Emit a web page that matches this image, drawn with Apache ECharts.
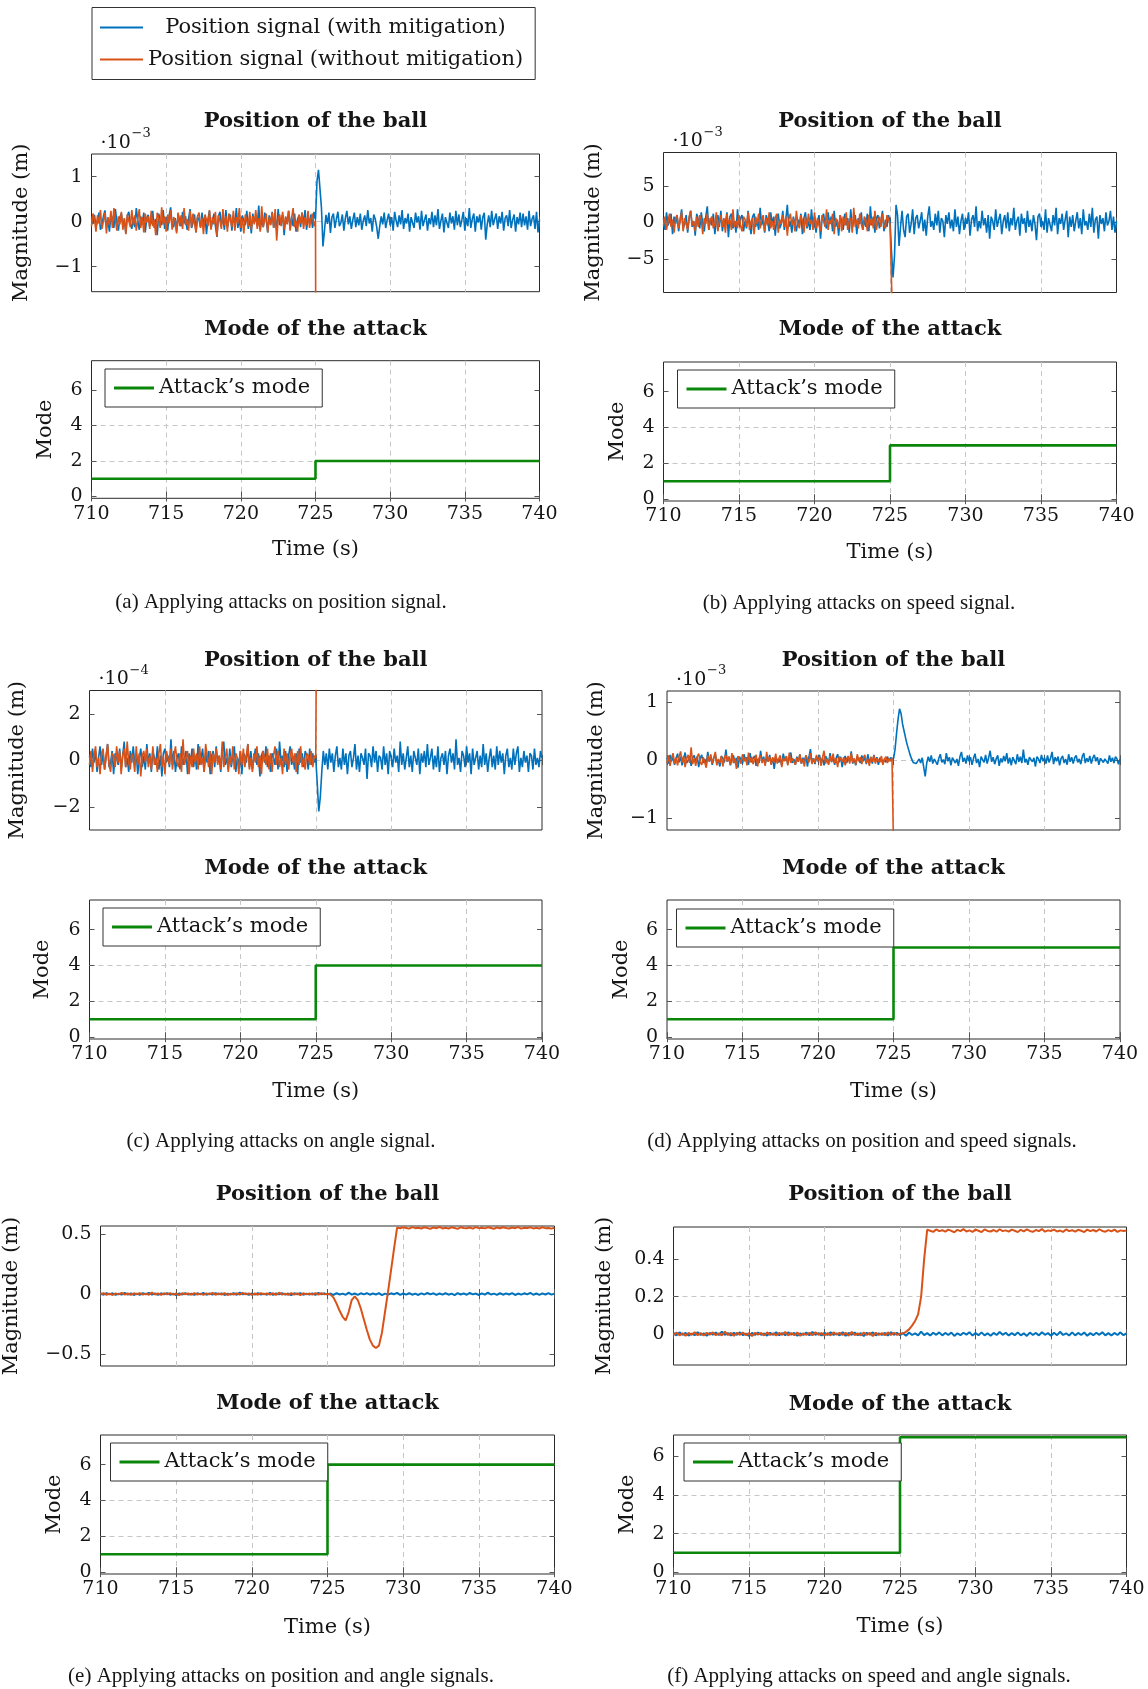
<!DOCTYPE html>
<html lang="en">
<head>
    <meta charset="UTF-8">
    <title>Position of the ball / Mode of the attack</title>
    <script src="https://cdn.jsdelivr.net/npm/echarts@6/dist/echarts.min.js"></script>
    <style>
        html, body { margin: 0; padding: 0; background: #fff; }
        #main { width: 1148px; height: 1689px; }
    </style>
</head>
<body>
<div id="main"></div>
<script type="text/javascript">
    // traces start at 710 s; (a)-(d) sampled every 0.1 s, (e)-(f) every 0.2 s
    var t0 = 710;
    var timeTicks = [710, 715, 720, 725, 730, 735, 740];
    var modeTicks = [0, 2, 4, 6];

    // attack mode (step) for each sub-figure
    var modeTimes = [710, 725, 725, 740];
    var modeA = [1, 1, 2, 2];
    var modeB = [1, 1, 3, 3];
    var modeC = [1, 1, 4, 4];
    var modeD = [1, 1, 5, 5];
    var modeE = [1, 1, 6, 6];
    var modeF = [1, 1, 7, 7];

    // y tick labels of the position plots
    var posTicksA = [-1, 0, 1];       // x 10^-3
    var posTicksB = [-5, 0, 5];       // x 10^-3
    var posTicksC = [-2, 0, 2];       // x 10^-4
    var posTicksD = [-1, 0, 1];       // x 10^-3
    var posTicksE = [-0.5, 0, 0.5];
    var posTicksF = [0, 0.2, 0.4];

    // (a) attack on position signal, values x 10^-3 m
    var blueA = [0.08,-0.05,0.15,-0.12,0.02,0.20,-0.18,-0.06,0.12,0.25,
        -0.10,0.04,-0.22,0.16,0.06,-0.14,0.28,-0.02,-0.20,0.10,
        0.18,-0.08,0.05,-0.26,0.14,0.22,-0.04,-0.16,0.09,-0.12,
        0.30,0.02,-0.18,0.12,-0.06,0.20,-0.24,0.08,0.15,-0.10,
        -0.02,0.24,-0.14,0.06,-0.30,0.18,0.04,-0.08,0.26,-0.16,
        0.10,-0.20,0.14,0.32,-0.06,-0.12,0.08,-0.22,0.18,0.02,
        -0.10,0.22,-0.04,0.12,-0.18,0.06,0.28,-0.14,-0.02,0.16,
        -0.24,0.10,0.04,-0.12,0.20,-0.08,0.14,-0.28,0.06,0.24,
        -0.16,0.02,0.18,-0.10,-0.34,0.12,0.22,-0.06,0.08,-0.18,
        0.26,-0.12,0.04,0.16,-0.20,0.10,-0.04,0.30,-0.14,0.06,
        -0.22,0.14,0.02,-0.08,0.24,-0.16,0.10,-0.26,0.18,-0.02,
        0.12,-0.10,0.36,-0.18,0.06,-0.12,0.20,0.04,-0.24,0.14,
        -0.06,0.22,-0.14,0.08,-0.20,0.28,-0.08,0.02,0.16,-0.30,
        0.10,-0.04,0.24,-0.16,0.12,-0.10,0.18,-0.22,0.06,0.14,
        -0.12,0.20,-0.06,0.26,-0.18,0.08,-0.02,0.16,-0.14,0.22,
        0.05,
        0.90,1.15,1.15,0.30,-0.55,-0.20,0.15,-0.05,0.20,-0.25,
        0.10,0.18,-0.14,0.06,0.22,-0.10,-0.02,0.16,-0.20,0.08,
        0.24,-0.06,0.12,-0.16,0.04,0.20,-0.12,0.10,-0.08,0.18,
        -0.18,0.02,0.14,-0.10,0.26,-0.04,0.08,-0.22,0.16,0.06,
        -0.12,-0.38,-0.10,0.12,-0.06,0.20,-0.14,0.04,0.18,-0.08,
        0.10,-0.20,0.22,0.02,-0.12,0.14,-0.06,0.26,-0.16,0.08,
        -0.04,0.18,-0.22,0.10,0.06,-0.14,0.20,-0.02,0.12,-0.18,
        0.24,-0.10,0.04,0.16,-0.20,0.08,-0.06,0.22,-0.12,0.14,
        -0.08,0.28,-0.16,0.02,0.18,-0.24,0.10,0.06,-0.14,0.20,
        -0.04,0.12,-0.18,0.24,-0.08,0.16,-0.12,0.04,0.22,-0.20,
        0.08,-0.10,0.30,-0.14,0.06,0.18,-0.22,0.12,-0.02,0.16,
        -0.18,0.10,0.20,-0.40,-0.06,0.14,-0.12,0.24,-0.08,0.06,
        0.18,-0.16,0.12,-0.04,0.22,-0.20,0.08,0.14,-0.10,0.26,
        -0.14,0.04,0.16,-0.22,0.10,-0.06,0.20,-0.12,0.18,-0.08,
        0.12,-0.18,0.24,-0.10,0.06,0.14,-0.16,0.22,-0.24,0.05];
    var orangeA = [-0.10,0.18,0.06,-0.22,0.14,-0.04,0.26,-0.16,0.02,0.20,
        -0.26,0.10,-0.08,0.24,-0.14,0.30,0.04,-0.20,0.12,-0.06,
        0.22,-0.18,0.08,-0.28,0.16,0.02,-0.12,0.26,-0.08,0.14,
        -0.20,0.06,0.28,-0.14,0.10,-0.24,0.18,-0.02,0.12,-0.16,
        0.24,-0.10,0.04,-0.30,0.20,0.08,-0.14,0.32,-0.06,0.12,
        -0.22,0.16,-0.04,0.26,-0.18,0.10,0.02,-0.26,0.20,-0.10,
        0.14,-0.16,0.30,-0.08,0.06,-0.20,0.24,-0.12,0.18,-0.04,
        -0.24,0.12,0.20,-0.14,0.08,-0.28,0.16,0.04,-0.10,0.26,
        -0.18,0.10,-0.06,0.22,-0.32,0.14,0.02,-0.16,0.28,-0.08,
        0.12,-0.22,0.18,0.06,-0.12,0.24,-0.20,0.10,-0.04,0.30,
        -0.14,0.08,-0.26,0.16,0.02,-0.10,0.22,-0.18,0.12,-0.06,
        0.26,-0.16,0.08,-0.22,0.34,-0.12,0.04,0.18,-0.24,0.10,
        -0.08,0.20,-0.14,0.28,-0.42,0.06,0.16,-0.10,0.22,-0.18,
        0.12,-0.06,0.24,-0.20,0.08,0.30,-0.12,0.02,-0.22,0.16,
        -0.04,0.20,-0.16,0.10,-0.08,0.24,-0.14,0.06,0.18,-0.10,
        0.02];
    var tailA = [[725.02, -3]];

    // (b) attack on speed signal, values x 10^-3 m
    var blueB = [0.6,-1.0,1.4,-0.4,0.2,1.2,-1.6,0.8,-0.2,1.0,
        -1.2,0.4,1.8,-0.8,-0.2,1.0,-1.4,0.6,1.6,-0.6,
        0.2,-1.8,1.2,0.4,-0.8,1.4,-0.2,-1.2,0.8,2.2,
        -1.0,0.6,-0.4,1.2,-1.6,0.2,1.0,-0.6,1.6,-1.2,
        0.4,-0.2,1.4,-2.0,0.8,1.2,-0.8,0.2,-1.4,1.8,
        -0.4,0.6,1.0,-1.2,0.2,-0.8,1.6,-0.2,-1.6,0.8,
        1.2,-0.6,0.4,-1.0,2.0,-0.4,0.6,-1.4,1.0,0.2,
        -1.2,1.4,-0.2,0.8,-1.8,0.6,1.2,-0.8,-0.2,1.6,
        -1.0,0.4,2.4,-0.6,0.2,-1.4,0.8,1.0,-1.2,0.4,
        -0.4,1.2,-1.6,0.6,1.4,-0.8,0.2,-1.0,1.8,-0.6,
        0.8,-1.4,0.2,1.0,-2.2,0.6,1.2,-0.4,-0.8,1.4,
        -0.2,0.8,-1.2,1.6,-0.6,0.4,-1.8,1.0,0.2,-1.0,
        1.2,-0.4,0.6,-1.4,1.8,-0.8,0.2,1.0,-1.6,0.6,
        -0.2,1.4,-1.0,0.4,-0.6,1.2,-1.2,2.2,-0.4,0.8,
        -1.4,0.6,1.0,-0.8,0.2,1.6,-1.2,0.4,-0.6,1.0,
        0.2,
        -4.0,-7.5,-4.5,2.4,1.0,-3.2,-0.5,1.6,-1.0,-2.0,
        0.8,1.2,-1.4,-0.2,1.8,-1.6,0.6,1.0,-0.8,0.2,
        1.4,-1.2,0.4,-1.8,0.8,2.2,-0.6,0.2,-1.0,1.2,
        -0.4,1.6,-1.4,0.6,0.2,-2.0,1.0,-0.2,1.4,-0.8,
        0.4,-1.2,1.8,-0.6,0.8,-1.6,0.2,1.2,-1.0,0.6,
        -0.2,1.4,-1.8,0.4,1.0,-0.6,2.2,-1.2,0.2,-0.8,
        1.6,-0.4,0.6,-1.4,1.0,-2.2,0.8,0.2,-1.0,1.8,
        -0.6,0.4,1.2,-1.6,0.2,1.0,-0.8,1.4,-1.2,0.6,
        -0.4,2.0,-1.0,0.2,0.8,-1.8,1.2,-0.2,0.6,-1.4,
        1.6,-0.6,0.4,-1.2,1.0,-0.2,-2.4,0.8,1.2,-0.6,
        0.2,-1.0,1.8,-1.4,0.6,0.4,-1.2,1.0,-0.4,2.0,
        -1.6,0.6,-0.2,1.2,-1.0,0.4,1.6,-2.0,0.8,-0.6,
        1.0,-1.2,0.2,1.4,-0.8,0.6,-1.6,1.8,-0.4,0.2,
        -1.0,1.2,-0.6,2.0,-1.4,0.4,0.8,-2.2,1.0,-0.2,
        0.6,-1.2,1.4,-0.4,0.2,1.6,-1.0,0.8,-1.4,0.2];
    var orangeB = [-0.4,0.8,-1.0,0.2,1.2,-0.6,0.4,-1.4,0.6,1.0,
        -0.8,0.2,1.4,-1.2,0.6,-0.2,-1.0,0.8,1.6,-0.4,
        0.2,-1.2,0.8,-0.6,1.0,0.4,-1.6,0.6,-0.2,1.2,
        -1.0,0.4,0.8,-0.8,-0.2,1.4,-1.2,0.2,1.0,-0.6,
        0.6,-1.4,1.2,-0.2,0.4,-1.0,1.8,-0.6,0.2,-0.8,
        1.0,-0.4,-1.2,0.8,0.4,-0.6,1.4,-1.0,0.2,0.6,
        -1.6,0.8,-0.2,1.2,-0.8,0.4,1.0,-1.2,0.6,-0.4,
        1.4,-0.8,0.2,-1.0,0.6,1.2,-1.4,0.4,-0.2,1.0,
        -0.6,0.8,-1.8,0.4,1.2,-0.4,0.6,-1.2,1.6,-0.2,
        -0.8,1.0,0.2,-1.4,0.8,-0.6,1.2,-0.2,0.4,-1.0,
        1.4,-0.8,0.6,-0.4,-1.2,1.0,0.2,-0.6,1.8,-1.0,
        0.4,-0.2,1.2,-1.6,0.6,0.2,-0.8,1.0,-1.2,0.8,
        -0.4,1.4,-1.0,0.2,0.6,-1.4,2.0,-0.6,0.4,-0.8,
        1.2,-0.2,-1.0,0.8,0.4,-1.2,1.0,-0.4,0.6,-0.8,
        1.6,-1.0,0.2,0.8,-0.6,1.2,-0.4,-0.8,1.0,0.4,
        -0.2];
    var tailB = [[725.15, -12]];

    // (c) attack on angle signal, values x 10^-4 m
    var blueC = [0.2,-0.3,0.5,-0.1,0.4,-0.5,0.1,0.6,-0.2,0.3,
        -0.4,0.2,0.7,-0.3,-0.1,0.4,-0.6,0.3,0.1,-0.2,
        0.5,-0.4,0.2,0.8,-0.3,0.1,-0.5,0.4,-0.1,0.6,
        -0.2,0.3,-0.6,0.1,0.5,-0.3,0.2,-0.4,0.7,-0.1,
        0.3,-0.5,0.4,0.1,-0.2,0.6,-0.4,0.2,-0.7,0.3,
        0.5,-0.1,0.2,-0.3,0.9,-0.2,0.4,-0.5,0.1,0.3,
        -0.4,0.6,-0.2,0.1,0.4,-0.6,0.3,-0.1,0.5,-0.3,
        0.2,-0.4,0.7,-0.2,0.1,0.5,-0.5,0.3,-0.1,0.4,
        -0.6,0.2,0.4,-0.3,0.6,-0.1,0.2,-0.5,0.3,0.8,
        -0.2,0.1,-0.4,0.5,-0.3,0.2,0.6,-0.5,0.1,-0.2,
        0.4,-0.6,0.3,0.2,-0.1,0.7,-0.3,0.4,-0.4,0.1,
        0.5,-0.2,0.3,-0.7,0.2,0.4,-0.1,0.6,-0.3,0.2,
        -0.5,0.3,0.1,-0.2,0.5,-0.4,0.8,-0.1,0.2,-0.3,
        0.4,-0.5,0.2,0.6,-0.2,0.1,-0.4,0.3,-0.6,0.5,
        -0.1,0.3,-0.3,0.4,0.2,-0.4,0.5,-0.2,0.3,-0.1,
        0.1,
        -1.0,-2.2,-1.6,-0.5,0.4,-0.2,0.3,-0.4,0.5,-0.1,
        0.3,-0.5,0.2,0.6,-0.3,0.1,-0.4,0.5,-0.2,0.3,
        -0.6,0.2,0.4,-0.3,0.1,0.7,-0.4,0.2,-0.5,0.3,
        0.1,-0.2,0.5,-0.8,0.3,0.2,-0.3,0.6,-0.1,0.4,
        -0.5,0.2,0.1,-0.4,0.6,-0.2,0.3,-0.6,0.4,0.1,
        -0.3,0.5,-0.1,0.2,-0.5,0.8,-0.2,0.3,-0.4,0.1,
        0.6,-0.3,0.2,-0.5,0.4,0.1,-0.2,0.5,-0.6,0.3,
        -0.1,0.4,-0.3,0.7,-0.2,0.1,0.5,-0.4,0.2,-0.3,
        0.6,-0.5,0.1,0.3,-0.2,0.4,-0.6,0.2,0.5,-0.1,
        0.3,-0.4,0.9,-0.2,0.1,-0.5,0.4,0.2,-0.3,0.6,
        -0.1,0.3,-0.6,0.5,-0.2,0.1,0.4,-0.4,0.2,-0.3,
        0.7,-0.2,0.3,-0.5,0.1,0.5,-0.3,0.2,-0.4,0.6,
        -0.2,0.4,-0.1,0.3,-0.6,0.2,0.5,-0.3,0.1,-0.4,
        0.5,-0.2,0.3,0.6,-0.5,0.1,-0.3,0.4,-0.1,0.2,
        -0.5,0.3,0.2,-0.4,0.5,-0.2,0.1,-0.3,0.4,0.1];
    var orangeC = [-0.2,0.4,-0.5,0.2,0.6,-0.3,0.1,-0.6,0.3,0.5,
        -0.4,0.1,0.7,-0.2,-0.5,0.3,0.2,-0.3,0.6,-0.1,
        0.4,-0.6,0.2,0.5,-0.3,0.8,-0.1,-0.4,0.3,0.1,
        -0.5,0.6,-0.2,0.3,-0.7,0.2,0.4,-0.1,0.5,-0.3,
        0.2,-0.4,0.6,-0.2,0.1,-0.5,0.3,0.7,-0.3,0.2,
        -0.6,0.4,0.1,-0.2,0.5,-0.4,0.2,0.6,-0.1,-0.3,
        0.3,-0.5,0.9,-0.2,0.1,0.4,-0.6,0.2,-0.3,0.5,
        -0.1,0.3,-0.4,0.6,-0.2,0.1,-0.5,0.7,0.2,-0.3,
        0.4,-0.6,0.3,-0.1,0.5,-0.2,0.2,-0.4,0.8,-0.3,
        0.1,0.5,-0.5,0.2,-0.2,0.6,-0.4,0.3,0.1,-0.6,
        0.4,-0.2,0.5,-0.3,0.2,0.7,-0.4,0.1,-0.5,0.3,
        -0.1,0.6,-0.3,0.2,-0.6,0.4,0.1,-0.2,0.5,-0.4,
        0.3,-0.5,0.2,0.6,-0.2,0.4,-0.3,0.1,-0.6,0.5,
        -0.2,0.3,-0.4,0.2,0.5,-0.1,0.3,-0.5,0.4,-0.2,
        0.6,-0.3,0.1,-0.4,0.3,0.2,-0.2,0.4,-0.3,0.2,
        0.1];
    var tailC = [[725.04, 5]];

    // (d) attack on position and speed signals, values x 10^-3 m
    var blueD = [0.04,-0.06,0.09,-0.02,0.05,-0.08,0.03,0.11,-0.04,0.06,
        -0.09,0.02,0.13,-0.05,-0.01,0.07,-0.10,0.04,0.08,-0.03,
        0.06,-0.12,0.03,0.09,-0.05,0.02,-0.07,0.14,-0.02,0.05,
        -0.08,0.04,0.10,-0.06,0.01,-0.11,0.07,0.03,-0.04,0.18,
        -0.03,0.06,-0.09,0.02,0.08,-0.05,0.04,-0.13,0.06,0.01,
        -0.06,0.10,-0.02,0.05,-0.08,0.12,-0.04,0.03,0.07,-0.10,
        0.02,-0.05,0.16,-0.03,0.06,-0.07,0.04,-0.02,0.09,-0.06,
        0.03,-0.15,0.05,0.08,-0.04,0.02,-0.09,0.11,-0.01,0.06,
        -0.07,0.04,0.13,-0.05,0.02,-0.08,0.06,-0.03,0.10,-0.06,
        0.04,-0.02,0.08,-0.11,0.05,0.19,-0.04,0.03,-0.07,0.06,
        -0.02,0.09,-0.05,0.04,-0.09,0.07,0.02,-0.06,0.12,-0.03,
        0.05,-0.08,0.03,0.10,-0.04,0.06,-0.12,0.02,0.07,-0.05,
        0.04,-0.03,0.15,-0.06,0.02,-0.09,0.06,0.03,-0.05,0.08,
        -0.02,0.05,-0.07,0.10,-0.04,0.03,-0.06,0.09,-0.03,0.05,
        -0.08,0.04,0.07,-0.05,0.02,-0.04,0.06,-0.02,0.04,0.01,
        0.02,
        0.18,0.45,0.70,0.88,0.80,0.62,0.50,0.38,0.27,0.18,
        0.09,0.02,-0.04,-0.07,-0.06,-0.03,0.02,-0.05,0.04,-0.12,
        -0.28,-0.05,0.06,-0.03,0.08,-0.06,0.02,0.05,-0.08,0.03,
        0.10,-0.04,0.01,-0.07,0.12,-0.02,0.05,-0.09,0.04,0.07,
        -0.05,0.02,-0.10,0.06,0.14,-0.03,0.04,-0.06,0.08,-0.02,
        0.05,-0.08,0.03,0.11,-0.05,0.02,-0.12,0.06,0.01,-0.04,
        0.09,-0.06,0.04,0.16,-0.03,0.05,-0.07,0.02,0.08,-0.10,
        0.03,-0.04,0.07,-0.02,0.12,-0.06,0.04,-0.09,0.05,0.02,
        -0.07,0.10,-0.03,0.06,-0.05,0.18,-0.04,0.02,-0.08,0.05,
        0.07,-0.03,0.04,-0.11,0.06,0.02,-0.05,0.09,-0.02,0.04,
        -0.06,0.08,-0.04,0.03,0.14,-0.07,0.05,-0.02,0.06,-0.09,
        0.03,0.07,-0.05,0.02,-0.08,0.10,-0.03,0.05,-0.06,0.04,
        0.08,-0.04,0.02,-0.07,0.06,0.12,-0.05,0.03,-0.03,0.07,
        -0.06,0.04,0.09,-0.02,0.05,-0.08,0.03,0.06,-0.04,0.02,
        0.05,-0.06,0.08,-0.03,0.04,-0.05,0.06,0.02,-0.07,0.02];
    var orangeD = [-0.05,0.08,-0.10,0.03,0.12,-0.06,0.04,-0.09,0.06,0.15,
        -0.04,0.07,-0.12,0.02,0.09,-0.05,0.22,-0.07,0.03,-0.10,
        0.06,0.11,-0.04,-0.08,0.05,0.02,-0.13,0.08,-0.03,0.10,
        -0.06,0.04,0.14,-0.09,0.02,-0.05,0.07,-0.11,0.05,0.09,
        -0.03,0.06,-0.08,0.12,-0.05,0.03,-0.15,0.07,0.04,-0.06,
        0.10,-0.02,0.05,-0.09,0.13,-0.04,0.06,-0.07,0.02,0.09,
        -0.11,0.04,0.08,-0.05,0.03,-0.10,0.14,-0.03,0.06,-0.08,
        0.05,-0.04,0.11,-0.06,0.02,0.08,-0.12,0.04,-0.02,0.07,
        -0.09,0.13,-0.05,0.03,0.06,-0.08,0.04,-0.03,0.10,-0.06,
        0.02,-0.11,0.08,0.05,-0.04,0.12,-0.07,0.03,-0.05,0.09,
        -0.02,0.06,-0.10,0.04,0.16,-0.06,0.02,-0.08,0.07,-0.04,
        0.11,-0.05,0.03,-0.12,0.06,0.08,-0.03,0.05,-0.09,0.02,
        0.07,-0.06,0.12,-0.04,0.03,-0.08,0.10,-0.02,0.05,-0.07,
        0.04,0.09,-0.05,0.02,-0.10,0.06,-0.03,0.08,-0.06,0.03,
        0.05,-0.04,0.07,-0.08,0.02,0.06,-0.05,0.03,-0.02,0.04,
        0.03];
    var tailD = [[725.1, -3]];

    // (e) attack on position and angle signals, values in m
    var blueE = [0.004,-0.006,0.008,-0.003,0.006,-0.007,0.002,-0.005,0.009,-0.004,
        0.005,-0.008,0.003,-0.006,0.007,-0.002,0.010,-0.005,0.004,-0.007,
        0.006,-0.003,0.008,-0.006,0.003,-0.009,0.005,-0.004,0.007,-0.005,
        0.002,-0.007,0.006,-0.003,0.009,-0.006,0.004,-0.005,0.008,-0.002,
        0.005,-0.008,0.003,-0.004,0.007,-0.006,0.011,-0.003,0.004,-0.007,
        0.006,-0.005,0.008,-0.004,0.003,-0.006,0.009,-0.008,0.005,-0.003,
        0.007,-0.005,0.004,-0.009,0.006,-0.002,0.008,-0.006,0.003,-0.004,
        0.005,-0.007,0.009,-0.003,0.006,-0.005,0.004,-0.008,0.007,-0.004,
        0.003,-0.006,0.012,-0.005,0.004,-0.007,0.006,-0.003,0.008,-0.006,
        0.005,-0.004,0.007,-0.009,0.003,-0.005,0.006,-0.002,0.009,-0.007,
        0.004,-0.005,0.008,-0.006,0.003,-0.008,0.005,-0.004,0.010,-0.003,
        0.006,-0.007,0.004,-0.005,0.008,-0.006,0.003,-0.009,0.007,-0.004,
        0.005,-0.006,0.009,-0.003,0.004,-0.008,0.006,-0.005,0.011,-0.004,
        0.003,-0.007,0.008,-0.006,0.005,-0.004,0.007,-0.008,0.004,-0.005,
        0.006,-0.003,0.009,-0.006,0.004,-0.007,0.005,-0.004,0.008,-0.005,
        0.003];
    var orangeE = [-0.004,0.007,-0.006,0.003,-0.008,0.005,-0.003,0.009,-0.005,0.004,
        -0.007,0.006,-0.002,0.008,-0.005,0.003,-0.006,0.012,-0.004,0.005,
        -0.008,0.006,-0.003,0.007,-0.005,0.004,-0.009,0.006,-0.002,0.005,
        -0.006,0.008,-0.004,0.003,-0.007,0.005,-0.003,0.010,-0.006,0.004,
        -0.005,0.007,-0.008,0.003,-0.004,0.006,-0.005,0.009,-0.003,0.005,
        -0.007,0.004,-0.006,0.008,-0.002,0.005,-0.004,0.006,-0.008,0.011,
        -0.005,0.003,-0.006,0.007,-0.004,0.005,-0.009,0.006,-0.003,0.004,
        -0.005,0.008,-0.004,0.006,-0.003,0.002,
        -0.005,-0.03,-0.08,-0.14,-0.19,-0.22,-0.15,-0.05,-0.02,-0.05,
        -0.12,-0.21,-0.30,-0.38,-0.43,-0.45,-0.43,-0.32,-0.15,0.02,
        0.20,0.38,0.553,
        0.548,0.556,0.551,0.545,0.558,0.549,0.553,0.546,0.557,0.550,
        0.544,0.555,0.549,0.559,0.547,0.552,0.546,0.556,0.550,0.543,
        0.557,0.551,0.548,0.554,0.545,0.558,0.549,0.553,0.547,0.556,
        0.551,0.544,0.555,0.548,0.557,0.550,0.546,0.554,0.549,0.558,
        0.545,0.553,0.550,0.556,0.547,0.552,0.546,0.557,0.549,0.551,
        0.545,0.553];

    // (f) attack on speed and angle signals, values in m
    var blueF = [0.005,-0.007,0.009,-0.004,0.006,-0.008,0.003,-0.006,0.010,-0.005,
        0.004,-0.009,0.006,-0.003,0.008,-0.005,0.012,-0.004,0.005,-0.007,
        0.007,-0.004,0.009,-0.006,0.003,-0.010,0.006,-0.005,0.008,-0.004,
        0.003,-0.008,0.007,-0.004,0.010,-0.006,0.005,-0.006,0.009,-0.003,
        0.006,-0.009,0.004,-0.005,0.008,-0.007,0.011,-0.004,0.005,-0.008,
        0.007,-0.005,0.009,-0.005,0.004,-0.007,0.010,-0.009,0.006,-0.004,
        0.008,-0.006,0.005,-0.010,0.007,-0.003,0.009,-0.007,0.004,-0.005,
        0.006,-0.008,0.010,-0.004,0.007,-0.006,0.005,-0.009,0.008,-0.005,
        0.004,-0.007,0.013,-0.006,0.005,-0.008,0.007,-0.004,0.009,-0.007,
        0.006,-0.005,0.008,-0.010,0.004,-0.006,0.007,-0.003,0.010,-0.008,
        0.005,-0.006,0.009,-0.007,0.004,-0.009,0.006,-0.005,0.011,-0.004,
        0.007,-0.008,0.005,-0.006,0.009,-0.007,0.004,-0.010,0.008,-0.005,
        0.006,-0.007,0.010,-0.004,0.005,-0.009,0.007,-0.006,0.012,-0.005,
        0.004,-0.008,0.009,-0.007,0.006,-0.005,0.008,-0.009,0.005,-0.006,
        0.007,-0.004,0.010,-0.007,0.005,-0.008,0.006,-0.005,0.009,-0.006,
        0.004];
    var orangeF = [-0.005,0.008,-0.007,0.004,-0.009,0.006,-0.004,0.010,-0.006,0.005,
        -0.008,0.007,-0.003,0.009,-0.006,0.004,-0.007,0.013,-0.005,0.006,
        -0.009,0.007,-0.004,0.008,-0.006,0.005,-0.010,0.007,-0.003,0.006,
        -0.007,0.009,-0.005,0.004,-0.008,0.006,-0.004,0.011,-0.007,0.005,
        -0.006,0.008,-0.009,0.004,-0.005,0.007,-0.006,0.010,-0.004,0.006,
        -0.008,0.005,-0.007,0.009,-0.003,0.006,-0.005,0.007,-0.009,0.012,
        -0.006,0.004,-0.007,0.008,-0.005,0.006,-0.010,0.007,-0.004,0.005,
        -0.006,0.009,-0.005,0.007,-0.004,0.002,
        0.004,0.012,0.025,0.045,0.07,0.105,0.2,0.4,0.556,
        0.551,0.545,0.558,0.549,0.554,0.546,0.557,0.550,0.543,0.556,
        0.549,0.560,0.547,0.553,0.545,0.557,0.551,0.544,0.558,0.550,
        0.547,0.555,0.546,0.559,0.549,0.553,0.546,0.557,0.551,0.544,
        0.556,0.548,0.558,0.550,0.545,0.555,0.549,0.560,0.546,0.553,
        0.550,0.557,0.547,0.552,0.545,0.558,0.549,0.554,0.546,0.556,
        0.551,0.544,0.557,0.549,0.555,0.547,0.559,0.550,0.546,0.554,
        0.548,0.557,0.545,0.553,0.550,0.552];

    var captions = [
        '(a) Applying attacks on position signal.',
        '(b) Applying attacks on speed signal.',
        '(c) Applying attacks on angle signal.',
        '(d) Applying attacks on position and speed signals.',
        '(e) Applying attacks on position and angle signals.',
        '(f) Applying attacks on speed and angle signals.'
    ];

    var NAME_WITH = 'Position signal (with mitigation)';
    var NAME_WITHOUT = 'Position signal (without mitigation)';
    var NAME_MODE = 'Attack\u2019s mode';

    var FONT = '"DejaVu Serif", serif';
    var CAP_FONT = '"Liberation Serif", "Times New Roman", serif';
    var INK = '#151515';
    var BLUE = '#0072bd', ORANGE = '#d95319', GREEN = '#0a870a';

    // layout of each sub-figure (pixel boxes: left, top, width, height)
    var panels = [
        {pos: [91.5, 154, 448, 137.7], mode: [91.5, 360.7, 448, 137.6], yr: [-1.556, 1.504], ticks: posTicksA, mmax: 7.65,
            step: 0.1, lw: 1.6, blue: blueA, orange: orangeA, tail: tailA, steps: modeA, exp: '\u22123',
            magX: 22, modeX: 46, titleY: 122, mTitleY: 330, timeY: 550, leg: [105, 369], cap: [281, 602]},
        {pos: [663.5, 152.5, 453, 140], mode: [663.5, 362, 453, 139], yr: [-9.55, 9.55], ticks: posTicksB, mmax: 7.65,
            step: 0.1, lw: 1.6, blue: blueB, orange: orangeB, tail: tailB, steps: modeB, exp: '\u22123',
            magX: 594, modeX: 618, titleY: 122, mTitleY: 330, timeY: 553, leg: [677.5, 370], cap: [859, 603]},
        {pos: [89.5, 690.5, 452.5, 139.5], mode: [89.5, 900, 452.5, 139], yr: [-3, 3], ticks: posTicksC, mmax: 7.65,
            step: 0.1, lw: 1.6, blue: blueC, orange: orangeC, tail: tailC, steps: modeC, exp: '\u22124',
            magX: 17.5, modeX: 43, titleY: 661, mTitleY: 869, timeY: 1092, leg: [103, 908], cap: [281, 1141]},
        {pos: [667, 691, 453, 139], mode: [667, 900, 453, 139], yr: [-1.2, 1.186], ticks: posTicksD, mmax: 7.65,
            step: 0.1, lw: 1.6, blue: blueD, orange: orangeD, tail: tailD, steps: modeD, exp: '\u22123',
            magX: 597, modeX: 621.5, titleY: 661, mTitleY: 869, timeY: 1092, leg: [676.5, 909], cap: [862, 1141]},
        {pos: [100.5, 1226, 454, 140], mode: [100.5, 1435, 454, 139], yr: [-0.6, 0.567], ticks: posTicksE, mmax: 7.65,
            step: 0.2, lw: 2, blue: blueE, orange: orangeE, tail: [], steps: modeE, exp: null,
            magX: 11.5, modeX: 55, titleY: 1195, mTitleY: 1404, timeY: 1628, leg: [110.5, 1443], cap: [281, 1676]},
        {pos: [673.5, 1227, 453, 138], mode: [673.5, 1435, 453, 139], yr: [-0.165, 0.571], ticks: posTicksF, mmax: 7.12,
            step: 0.2, lw: 2, blue: blueF, orange: orangeF, tail: [], steps: modeF, exp: null,
            magX: 604.5, modeX: 628, titleY: 1195, mTitleY: 1405, timeY: 1627, leg: [684, 1443], cap: [869, 1676]}
    ];

    function sampled(vals, step) {
        return vals.map(function (v, i) { return [Math.round((t0 + i * step) * 10) / 10, v]; });
    }
    function fmt(v) {
        return v < 0 ? '\u2212' + String(-v) : String(v);
    }
    function txt(x, y, text, size, opts) {
        opts = opts || {};
        return {
            type: 'text', x: x, y: y, rotation: opts.rot || 0, z: 20,
            style: {
                text: text, fill: INK, fontSize: size, fontFamily: opts.font || FONT,
                fontWeight: opts.bold ? 'bold' : 'normal',
                align: opts.align || 'center', verticalAlign: 'middle'
            }
        };
    }

    var grids = [], xAxes = [], yAxes = [], series = [], graphics = [];
    var legends = [{
        data: [NAME_WITH, NAME_WITHOUT], orient: 'vertical', left: 92, top: 7.5,
        padding: [8, 12, 8, 8], icon: 'rect', itemWidth: 43, itemHeight: 2, itemGap: 8,
        borderColor: '#333', borderWidth: 1, backgroundColor: '#fff', selectedMode: false,
        // first entry is centred in the box, as in the original figure
        formatter: function (name) { return name === NAME_WITH ? '\u2002 ' + name : name; },
        textStyle: {fontFamily: FONT, fontSize: 21, color: INK, lineHeight: 24}
    }];

    function addGrid(box, yMin, yMax, yTicks, showX) {
        var g = grids.length;
        grids.push({left: box[0], top: box[1], width: box[2], height: box[3], show: true,
            borderColor: '#2a2a2a', borderWidth: 1, backgroundColor: 'transparent'});
        var tick = {show: true, inside: true, length: 5, lineStyle: {color: '#555', width: 1}};
        var dash = {show: true, showMinLine: false, showMaxLine: false,
            lineStyle: {color: '#c6c6c6', width: 1, type: [5, 4]}};
        xAxes.push({gridIndex: g, type: 'value', min: 710, max: 740, interval: 5, position: 'bottom',
            axisLine: {show: false}, axisTick: tick, splitLine: dash,
            axisLabel: {show: showX, margin: 6, color: INK, fontFamily: FONT, fontSize: 19}});
        xAxes.push({gridIndex: g, type: 'value', min: 710, max: 740, interval: 5, position: 'top',
            axisLine: {show: false}, axisTick: tick, splitLine: {show: false}, axisLabel: {show: false}});
        yAxes.push({gridIndex: g, type: 'value', min: yMin, max: yMax, position: 'left',
            axisLine: {show: false},
            axisTick: {show: true, inside: true, length: 5, lineStyle: {color: '#555'}, customValues: yTicks},
            splitLine: dash,
            axisLabel: {margin: 9, color: INK, fontFamily: FONT, fontSize: 19, customValues: yTicks, formatter: fmt}});
        yAxes.push({gridIndex: g, type: 'value', min: yMin, max: yMax, position: 'right',
            axisLine: {show: false},
            axisTick: {show: true, inside: true, length: 5, lineStyle: {color: '#555'}, customValues: yTicks},
            splitLine: {show: false}, axisLabel: {show: false}});
        return g;
    }

    panels.forEach(function (p, k) {
        // position of the ball
        var g = addGrid(p.pos, p.yr[0], p.yr[1], p.ticks, false);
        series.push({name: NAME_WITH, type: 'line', xAxisIndex: 2 * g, yAxisIndex: 2 * g,
            data: sampled(p.blue, p.step), symbol: 'none', z: 2,
            lineStyle: {color: BLUE, width: p.lw}, itemStyle: {color: BLUE}});
        series.push({name: NAME_WITHOUT, type: 'line', xAxisIndex: 2 * g, yAxisIndex: 2 * g,
            data: sampled(p.orange, p.step).concat(p.tail), symbol: 'none', z: 3,
            lineStyle: {color: ORANGE, width: p.lw}, itemStyle: {color: ORANGE}});

        // mode of the attack
        var m = addGrid(p.mode, -0.1, p.mmax, modeTicks, true);
        series.push({name: NAME_MODE, type: 'line', xAxisIndex: 2 * m, yAxisIndex: 2 * m,
            data: modeTimes.map(function (t, i) { return [t, p.steps[i]]; }),
            symbol: 'none', z: 2, lineStyle: {color: GREEN, width: 2.6}, itemStyle: {color: GREEN}});
        legends.push({data: [NAME_MODE], left: p.leg[0], top: p.leg[1],
            padding: [7, 12, 7, 9], icon: 'rect', itemWidth: 40, itemHeight: 3,
            borderColor: '#333', borderWidth: 1, backgroundColor: '#fff', selectedMode: false,
            textStyle: {fontFamily: FONT, fontSize: 21, color: INK, lineHeight: 24}});

        var cx = p.pos[0] + p.pos[2] / 2;
        graphics.push(txt(cx, p.titleY, 'Position of the ball', 21, {bold: true}));
        graphics.push(txt(cx, p.mTitleY, 'Mode of the attack', 21, {bold: true}));
        graphics.push(txt(p.magX, p.pos[1] + p.pos[3] / 2, 'Magnitude (m)', 21, {rot: Math.PI / 2}));
        graphics.push(txt(p.modeX, p.mode[1] + p.mode[3] / 2, 'Mode', 21, {rot: Math.PI / 2}));
        graphics.push(txt(cx, p.timeY, 'Time (s)', 21));
        graphics.push(txt(p.cap[0], p.cap[1], captions[k], 21, {font: CAP_FONT}));
        if (p.exp) {
            graphics.push(txt(p.pos[0] + 9, p.pos[1] - 11, '\u00b710', 19, {align: 'left'}));
            graphics.push(txt(p.pos[0] + 40, p.pos[1] - 20, p.exp, 13, {align: 'left'}));
        }
    });

    var myChart = echarts.init(document.getElementById('main'));
    myChart.setOption({
        animation: false,
        backgroundColor: '#fff',
        grid: grids,
        xAxis: xAxes,
        yAxis: yAxes,
        legend: legends,
        series: series,
        graphic: {elements: graphics}
    });
</script>
</body>
</html>
